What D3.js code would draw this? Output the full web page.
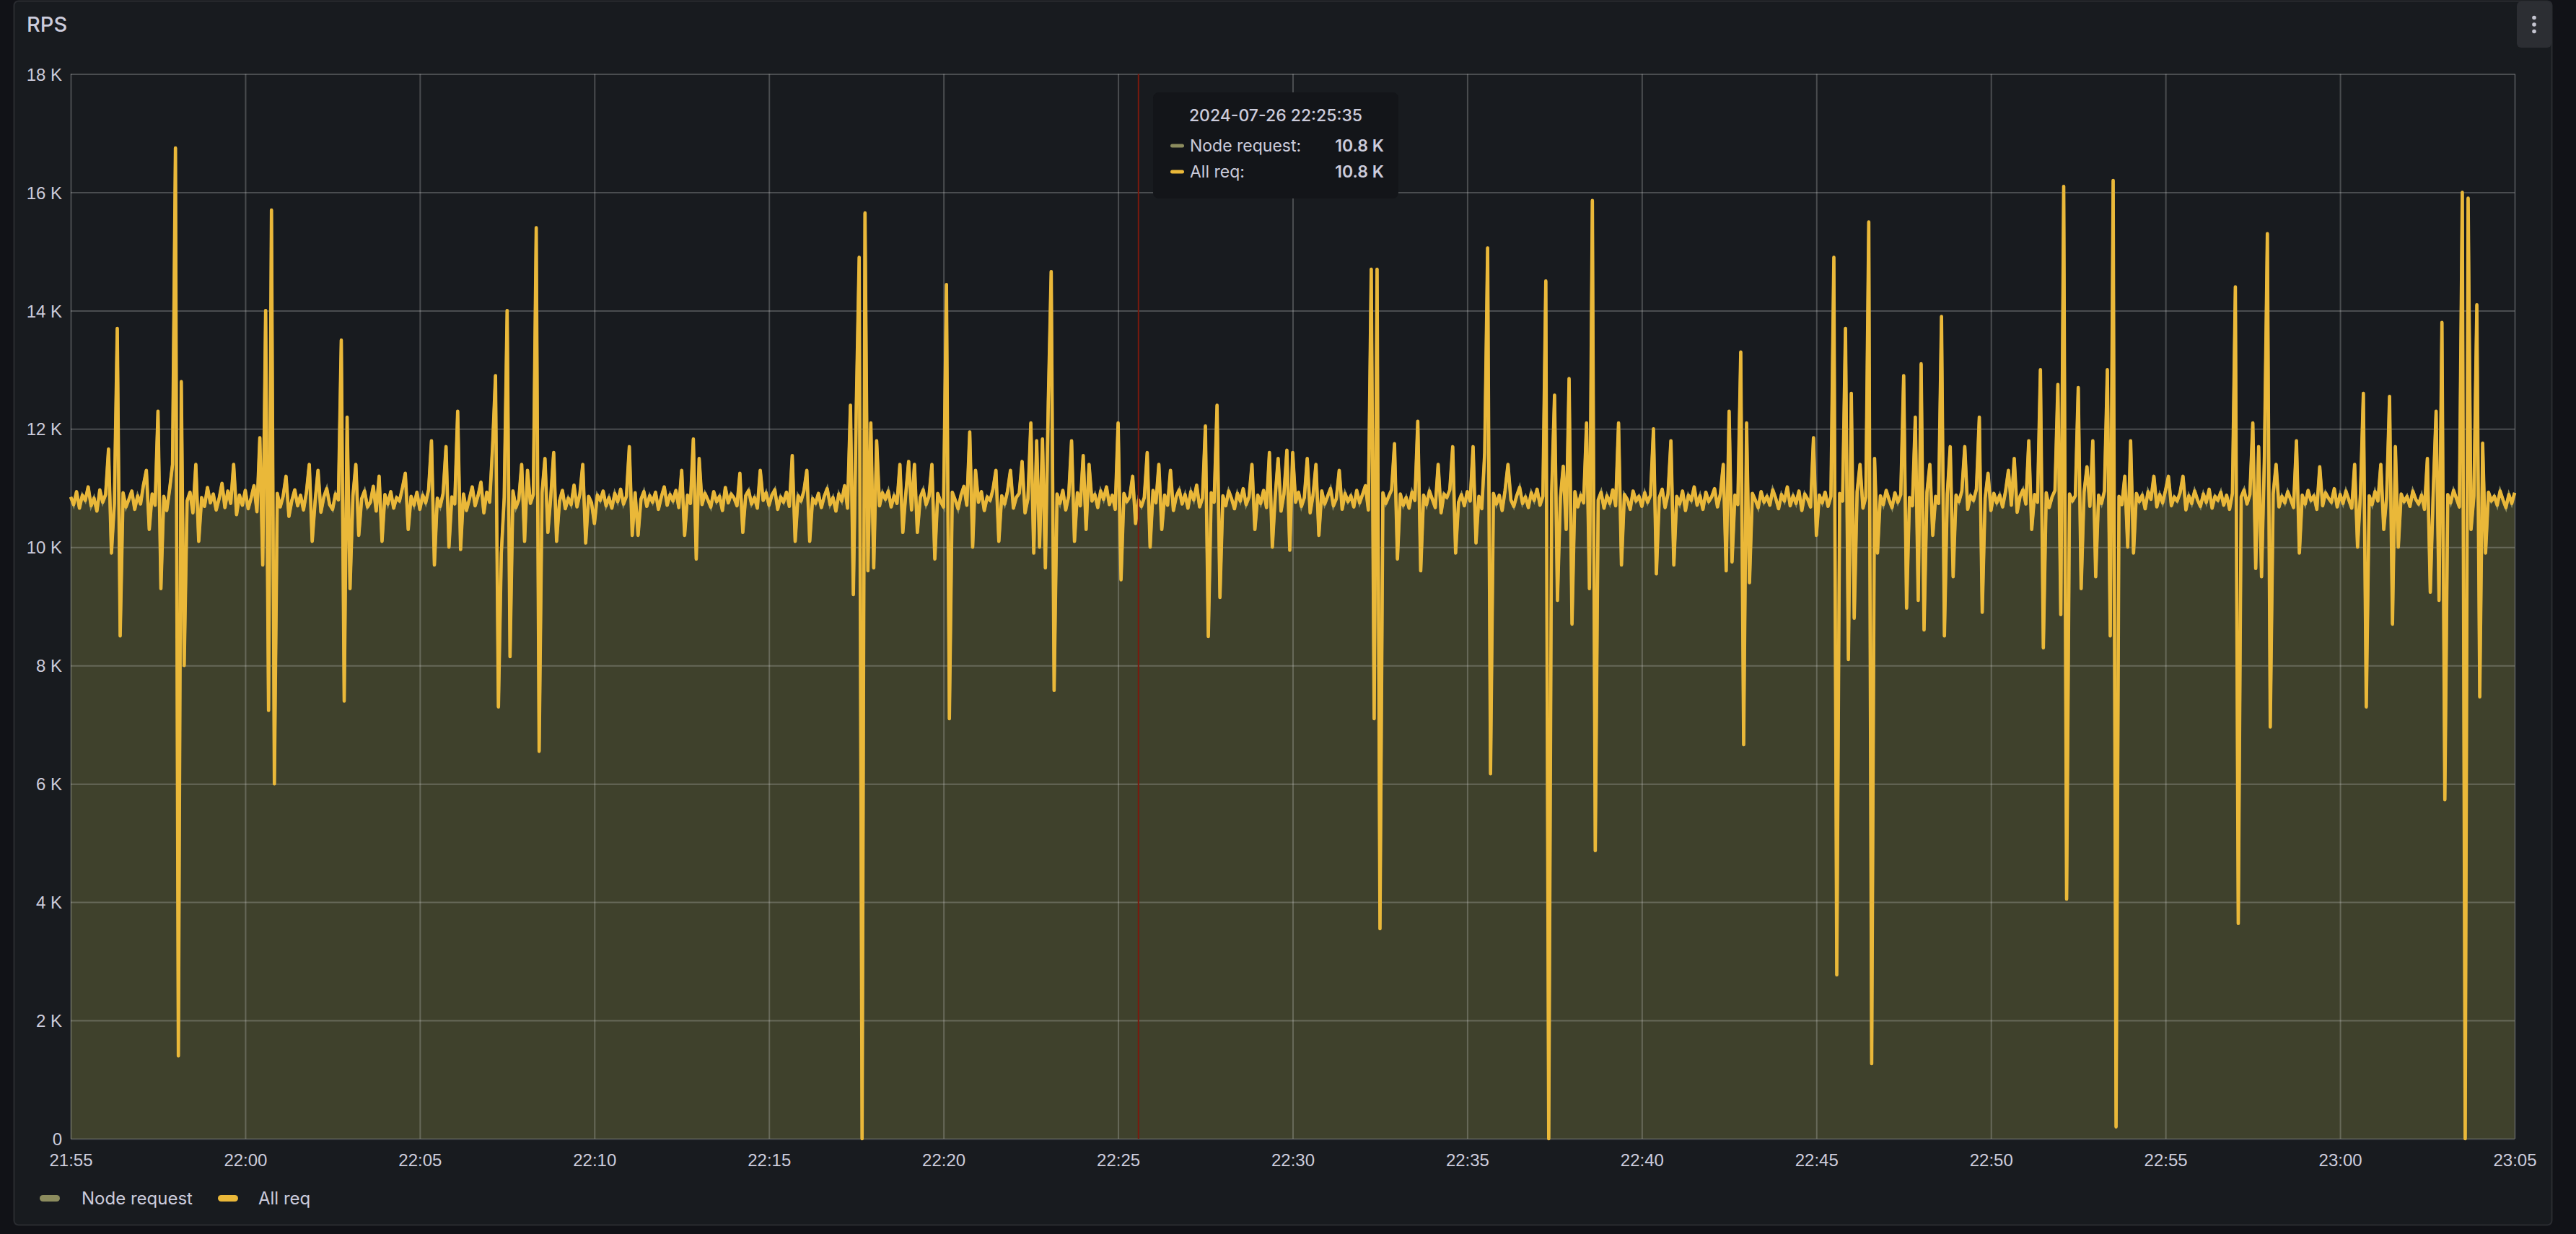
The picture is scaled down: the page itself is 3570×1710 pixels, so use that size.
<!DOCTYPE html>
<html>
<head>
<meta charset="utf-8">
<script src="https://cdn.jsdelivr.net/npm/d3@7"></script>
<style>
  html, body { margin: 0; padding: 0; background: #111217; }
  svg { display: block; font-family: Inter, "Noto Sans", sans-serif; }
  .axis text { fill: #ccccdc; font-size: 24px; }
  .axis path, .axis line { display: none; }
  .grid line { stroke: rgba(220, 220, 220, 0.26); stroke-width: 2px; }
  .grid path { display: none; }
</style>
</head>
<body>
<svg id="chart" width="3570" height="1710"></svg>
<script>
// series, 5 s step, values in K req/s
let startTime = new Date(2024, 6, 26, 21, 55, 0);
let endTime = new Date(2024, 6, 26, 23, 5, 0);
let stepSeconds = 5;
let seriesNames = ["Node request", "All req"];
let yTicks = [0, 2000, 4000, 6000, 8000, 10000, 12000, 14000, 16000, 18000];
let hoverIndex = 367; // 22:25:35

let allReqK = [
  10.85,10.72,10.94,10.66,10.88,10.79,11.02,10.70,10.83,10.61,10.97,10.76,10.89,11.66,9.90,10.74,13.70,8.50,10.92,10.68,
  10.81,10.95,10.64,10.87,10.73,11.05,11.30,10.30,10.90,10.71,12.30,9.30,10.86,10.62,10.98,11.40,16.75,1.40,12.80,8.00,
  10.78,10.93,10.58,11.40,10.10,10.84,10.69,11.01,10.75,10.90,10.63,10.82,11.08,10.67,10.95,10.74,11.40,10.55,10.88,10.71,
  10.96,10.65,10.83,11.04,10.60,11.85,9.70,14.00,7.24,15.70,6.00,10.91,10.68,10.86,11.20,10.52,10.79,10.97,10.70,10.88,
  10.63,10.92,11.40,10.10,10.77,11.30,10.59,10.85,10.99,10.72,10.64,10.90,10.80,13.50,7.40,12.20,9.30,10.87,11.40,10.20,
  10.82,10.95,10.68,10.76,11.03,10.61,11.20,10.10,10.89,10.73,10.94,10.66,10.84,10.78,11.00,11.25,10.30,10.86,10.71,10.93,
  10.64,10.88,10.75,10.97,11.80,9.70,10.83,10.69,10.91,11.70,10.00,10.85,10.73,12.30,9.96,10.90,10.62,10.81,11.02,10.70,
  10.87,11.10,10.58,10.93,10.76,11.70,12.90,7.30,9.90,10.84,14.00,8.15,10.95,10.67,10.80,11.40,10.10,11.30,10.74,10.89,
  15.40,6.55,10.92,11.50,10.25,10.85,11.60,10.10,10.78,10.96,10.65,10.83,10.72,11.05,10.68,10.90,11.40,10.07,10.86,10.75,
  10.40,10.88,10.79,10.95,10.70,10.84,10.66,10.91,10.77,10.98,10.73,10.86,11.70,10.20,10.92,10.20,10.81,10.94,10.69,10.87,
  10.76,10.93,10.64,10.85,11.02,10.71,10.89,10.78,10.96,10.67,11.30,10.20,10.88,10.74,11.83,9.80,11.50,10.72,10.91,10.80,
  10.68,10.94,10.77,10.86,10.62,11.01,10.75,10.90,10.83,10.70,11.25,10.25,10.87,10.96,10.73,10.84,10.66,11.30,10.79,10.92,
  10.71,10.88,10.97,10.64,10.85,10.76,10.93,10.69,11.55,10.10,10.87,10.78,10.95,11.30,10.10,10.82,10.74,10.91,10.67,10.86,
  10.99,10.72,10.84,10.61,10.90,10.78,11.04,10.66,12.40,9.20,12.35,14.90,0.00,15.65,9.60,12.10,9.65,11.80,10.70,10.92,
  10.81,10.95,10.68,10.87,10.74,11.40,10.25,10.89,11.45,10.63,11.40,10.25,10.84,10.97,10.72,10.86,11.40,9.80,10.91,10.77,
  10.68,14.44,7.10,10.93,10.80,10.65,10.88,11.03,10.71,11.95,10.00,11.30,10.76,10.94,10.62,10.85,10.79,10.98,11.30,10.10,
  10.87,10.73,10.95,11.30,10.66,10.84,10.91,11.45,10.58,10.82,12.10,9.90,11.80,10.00,11.83,9.65,12.45,14.66,7.58,10.90,
  10.74,10.96,10.63,10.86,11.80,10.10,10.92,10.70,11.55,10.30,11.40,10.78,10.89,10.67,10.95,10.81,11.02,10.72,10.88,10.64,
  12.10,9.45,10.91,10.77,10.85,11.20,10.40,10.80,10.69,10.84,11.60,10.00,10.96,10.75,11.40,10.30,10.88,10.71,11.30,10.62,
  10.86,10.97,10.73,10.89,10.66,10.94,10.80,11.05,10.68,10.83,12.05,8.49,10.92,10.76,12.40,9.15,10.87,10.70,10.95,10.82,
  10.65,10.91,10.78,10.99,10.72,10.85,11.40,10.30,10.88,10.74,10.96,10.67,11.60,10.00,10.86,11.50,10.61,10.90,11.64,9.95,
  11.60,10.76,10.93,10.69,10.84,11.50,10.58,10.88,11.40,10.20,10.95,10.73,10.86,10.99,10.70,10.82,11.30,10.64,10.91,10.77,
  10.87,10.68,10.96,10.75,10.89,11.04,10.63,14.70,7.10,14.70,3.55,10.92,10.74,10.86,10.97,11.75,9.80,10.90,10.71,10.84,
  10.66,10.93,10.79,12.13,9.60,10.88,10.72,10.95,10.81,10.67,11.40,10.58,10.90,10.84,10.97,11.70,9.90,10.76,10.89,10.70,
  10.94,10.78,11.70,10.07,10.86,10.65,11.60,15.06,6.17,10.91,10.73,10.88,10.62,10.96,11.40,10.80,10.69,10.87,11.01,10.74,
  10.85,10.67,10.92,10.79,10.98,10.71,10.86,14.50,0.00,10.90,12.57,9.10,10.83,11.37,10.30,12.85,8.70,10.94,10.68,10.88,
  10.75,12.10,9.30,15.86,4.87,10.80,10.93,10.66,10.87,10.74,10.97,10.70,12.10,9.70,10.89,10.81,10.64,10.95,10.78,10.86,
  10.69,10.92,10.76,10.88,12.00,9.55,10.84,10.98,10.67,10.90,11.80,9.70,10.86,10.73,10.95,10.62,10.88,10.79,11.02,10.71,
  10.87,10.64,10.93,10.77,10.85,10.99,10.68,10.90,11.40,9.60,12.30,9.75,10.88,10.72,13.30,6.66,12.10,9.40,10.91,10.80,
  10.67,10.94,10.76,10.86,10.71,10.97,10.83,10.65,10.89,10.78,11.02,10.70,10.87,10.74,10.95,10.62,10.90,10.81,10.68,11.85,
  10.20,10.88,10.75,10.93,10.69,10.86,14.90,2.77,10.91,10.78,13.70,8.10,12.60,8.80,10.94,11.40,10.66,10.85,15.50,1.27,
  11.50,9.90,10.87,10.72,10.96,10.80,10.67,10.92,10.76,10.89,12.90,8.97,10.84,10.70,12.20,9.10,13.10,8.60,10.93,11.40,
  10.20,10.86,10.74,13.90,8.50,10.90,11.70,9.50,10.88,10.77,10.95,11.70,10.64,10.87,10.79,10.98,12.20,8.90,10.83,11.25,
  10.62,10.91,10.75,10.88,10.68,10.94,11.30,10.71,11.50,10.59,10.86,10.97,10.73,11.80,10.30,10.89,10.76,13.00,8.30,10.92,
  10.67,10.85,10.96,12.75,8.86,16.10,4.05,10.90,10.78,10.87,12.70,9.30,10.93,11.36,10.69,11.80,9.50,10.88,10.74,10.95,
  13.00,8.50,16.20,0.20,10.86,10.72,11.20,10.00,11.80,9.90,10.91,10.77,10.88,10.65,10.94,10.81,11.20,10.68,10.89,10.75,
  10.96,11.20,10.70,10.85,10.78,10.92,11.20,10.63,10.87,10.74,10.95,10.80,10.69,10.90,10.76,10.98,10.66,10.86,10.79,10.93,
  10.71,10.88,10.64,10.91,14.40,3.64,10.85,10.97,10.73,10.89,12.10,9.64,11.70,9.50,11.55,15.30,6.96,10.90,11.40,10.68,
  10.86,10.75,10.94,10.81,10.67,11.80,9.90,10.88,10.73,10.96,10.79,10.87,10.64,11.36,10.70,10.92,10.83,10.76,10.99,10.68,
  10.89,10.74,10.95,10.80,10.66,11.40,10.00,10.91,12.60,7.30,10.87,10.72,10.94,10.78,11.40,10.30,10.85,12.55,8.70,11.70,
  10.00,10.90,10.77,10.86,10.69,10.95,10.81,10.73,10.88,10.64,11.50,9.24,10.92,12.30,9.10,13.80,5.73,10.89,10.75,10.96,
  10.82,10.68,16.00,0.00,15.90,10.30,10.87,14.10,7.47,11.76,9.90,10.93,10.78,10.86,10.71,10.95,10.80,10.67,10.89,10.74,
  10.92
];
// both queries return the same numbers here (tooltip shows 10.8 K for each)
let nodeRequestK = allReqK;

let timeAt = i => new Date(startTime.getTime() + i * stepSeconds * 1000);
let allReq = allReqK.map((v, i) => ({t: timeAt(i), v: v * 1000}));
let nodeRequest = nodeRequestK.map((v, i) => ({t: timeAt(i), v: v * 1000}));

let svg = d3.select("#chart");
let plotLeft = 98, plotRight = 3485, plotTop = 102.5, plotBottom = 1578;

// panel
svg.append("rect")
  .attr("x", 19.5).attr("y", 1.5).attr("width", 3517).attr("height", 1696)
  .attr("rx", 6).attr("fill", "#181b1f").attr("stroke", "#2a2c31").attr("stroke-width", 2);

svg.append("text")
  .attr("x", 37).attr("y", 44)
  .attr("fill", "#ccccdc").attr("font-size", 29).attr("font-weight", 500)
  .text("RPS");

// menu button
let menu = svg.append("g");
menu.append("rect")
  .attr("x", 3488).attr("y", 2).attr("width", 48).attr("height", 64)
  .attr("rx", 6).attr("fill", "#2c2e33");
[24.5, 34, 43.5].forEach(cy => {
  menu.append("circle").attr("cx", 3512).attr("cy", cy).attr("r", 2.8).attr("fill", "#c4c4d0");
});

let x = d3.scaleTime().domain([startTime, endTime]).range([plotLeft, plotRight]);
let y = d3.scaleLinear().domain([0, 18000]).range([plotBottom, plotTop]);

let fmtK = v => v === 0 ? "0" : (v / 1000) + " K";

// node request: filled area + its line
let area = d3.area().x(d => x(d.t)).y0(y(0)).y1(d => y(d.v));
let line = d3.line().x(d => x(d.t)).y(d => y(d.v));

svg.append("path")
  .datum(nodeRequest)
  .attr("d", area)
  .attr("fill", "#3f412c");

// grid
svg.append("g")
  .attr("class", "grid")
  .attr("transform", `translate(0,${plotBottom})`)
  .call(d3.axisBottom(x).ticks(d3.timeMinute.every(5)).tickSize(-(plotBottom - plotTop)).tickFormat(""));
svg.append("g")
  .attr("class", "grid")
  .attr("transform", `translate(${plotLeft},0)`)
  .call(d3.axisLeft(y).tickValues(yTicks).tickSize(-(plotRight - plotLeft)).tickFormat(""));

svg.append("path")
  .datum(nodeRequest)
  .attr("d", line)
  .attr("fill", "none")
  .attr("stroke", "#8c8c5e")
  .attr("stroke-width", 4);

svg.append("path")
  .datum(allReq)
  .attr("d", line)
  .attr("fill", "none")
  .attr("stroke", "#eab839")
  .attr("stroke-width", 4.6)
  .attr("stroke-linejoin", "round");

// axes labels
svg.append("g")
  .attr("class", "axis")
  .attr("transform", `translate(${plotLeft - 12},0)`)
  .call(d3.axisLeft(y).tickValues(yTicks).tickSize(0).tickPadding(0).tickFormat(fmtK))
  .selectAll("text").attr("dy", "0.36em");

svg.append("g")
  .attr("class", "axis")
  .attr("transform", `translate(0,${plotBottom})`)
  .call(d3.axisBottom(x).ticks(d3.timeMinute.every(5)).tickSize(0).tickPadding(0).tickFormat(d3.timeFormat("%H:%M")))
  .selectAll("text").attr("dy", 0).attr("y", 38);

// crosshair
let hx = x(allReq[hoverIndex].t);
svg.append("line")
  .attr("x1", hx).attr("x2", hx).attr("y1", plotTop).attr("y2", plotBottom)
  .attr("stroke", "#7a1a0e").attr("stroke-width", 2);

// tooltip
let tip = svg.append("g");
tip.append("rect")
  .attr("x", 1598).attr("y", 128).attr("width", 340).attr("height", 147)
  .attr("rx", 8).attr("fill", "#131519");
tip.append("text")
  .attr("x", 1768).attr("y", 168).attr("text-anchor", "middle")
  .attr("fill", "#ccccdc").attr("font-size", 23).attr("font-weight", 500)
  .text(d3.timeFormat("%Y-%m-%d %H:%M:%S")(allReq[hoverIndex].t));
let tipRows = [
  {name: seriesNames[0], v: nodeRequest[hoverIndex].v, color: "#8c8c5e"},
  {name: seriesNames[1], v: allReq[hoverIndex].v, color: "#eab839"}
];
tipRows.forEach((r, i) => {
  let ry = 210 + i * 36;
  tip.append("rect")
    .attr("x", 1622).attr("y", ry - 10.5).attr("width", 19).attr("height", 5)
    .attr("rx", 2.5).attr("fill", r.color);
  tip.append("text")
    .attr("x", 1649).attr("y", ry)
    .attr("fill", "#ccccdc").attr("font-size", 23)
    .text(r.name + ":");
  tip.append("text")
    .attr("x", 1918).attr("y", ry).attr("text-anchor", "end")
    .attr("fill", "#ccccdc").attr("font-size", 23).attr("font-weight", 600)
    .text(d3.format(".1f")(r.v / 1000) + " K");
});

// legend
let legendItems = [
  {name: seriesNames[0], color: "#8c8c5e", mx: 55, tx: 113},
  {name: seriesNames[1], color: "#eab839", mx: 302, tx: 358}
];
legendItems.forEach(d => {
  svg.append("rect")
    .attr("x", d.mx).attr("y", 1656).attr("width", 28).attr("height", 9)
    .attr("rx", 4.5).attr("fill", d.color);
  svg.append("text")
    .attr("x", d.tx).attr("y", 1669)
    .attr("fill", "#ccccdc").attr("font-size", 24)
    .text(d.name);
});
</script>
</body>
</html>
